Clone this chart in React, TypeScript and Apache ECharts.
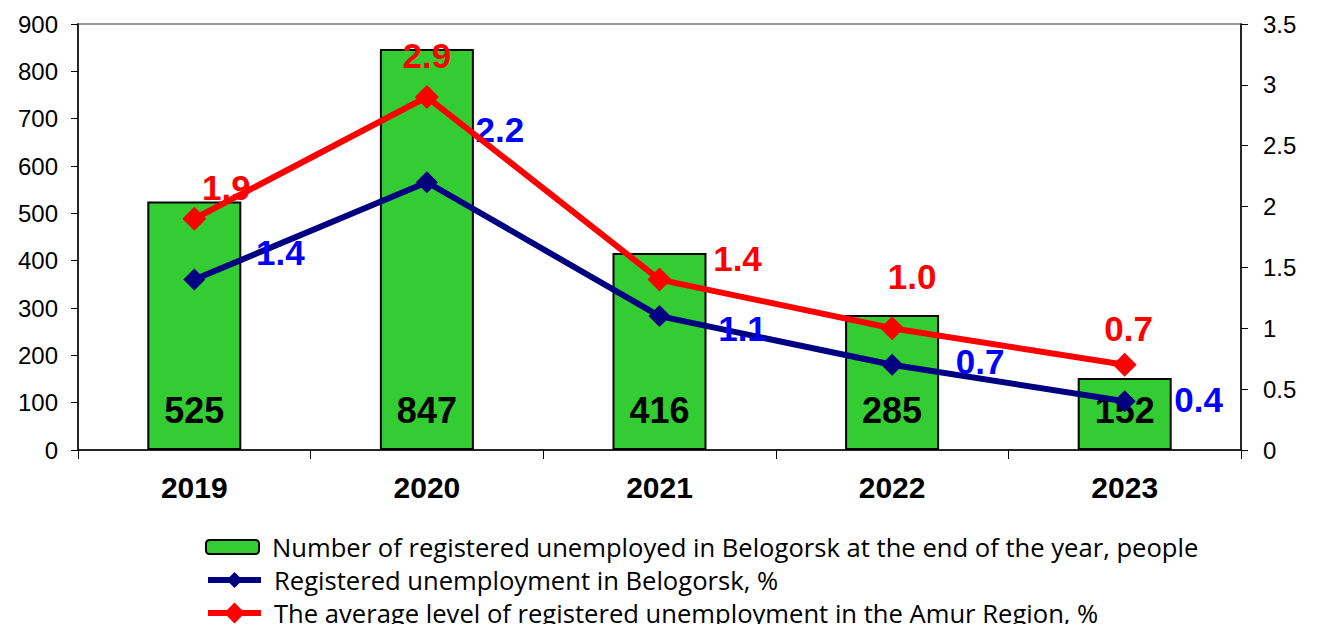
import React, { useEffect, useRef } from "react";
import * as echarts from "echarts";

const years = ["2019", "2020", "2021", "2022", "2023"];
const unemployedCount = [525, 847, 416, 285, 152];
const belogorskRate = [1.4, 2.2, 1.1, 0.7, 0.4];
const amurRate = [1.9, 2.9, 1.4, 1.0, 0.7];

const leftTicks = { min: 0, max: 900, interval: 100 };
const rightTicks = { min: 0, max: 3.5, interval: 0.5 };

const names = [
  "Number of registered unemployed in Belogorsk at the end of the year, people",
  "Registered unemployment in Belogorsk, %",
  "The average level of registered unemployment in the Amur Region, %",
];

// label offsets (layout only)
const blueOffsets = [[86, -27], [73, -53], [83, 12], [88, -3], [74, -2]];
const redOffsets = [[32, -31], [0, -42], [78, -21], [20, -52], [4, -36]];
const legendTops = [534, 567, 600];

export default function App() {
  const ref = useRef<HTMLDivElement>(null);
  useEffect(() => {
    if (!ref.current) return;
    const chart = echarts.init(ref.current, null, { renderer: "svg" });
    const font = "Arial, 'Liberation Sans', sans-serif";
    const legendBase = {
      orient: "vertical",
      left: 205,
      itemWidth: 53,
      itemHeight: 16,
      padding: 0,
      textStyle: {
        fontFamily: "'Open Sans', sans-serif",
        fontSize: 25.6,
        color: "#000",
        padding: [0, 0, 0, 8],
      },
    };
    chart.setOption({
      animation: false,
      textStyle: { fontFamily: font },
      grid: {
        left: 78,
        right: 76,
        top: 24,
        bottom: 182,
        show: true,
        borderColor: "#999",
        borderWidth: 2,
        backgroundColor: "transparent",
      },
      legend: [
        { ...legendBase, top: legendTops[0], itemHeight: 14, data: [{ name: names[0] }] },
        { ...legendBase, top: legendTops[1], itemHeight: 20, data: [{ name: names[1], lineStyle: { width: 6 } }] },
        { ...legendBase, top: legendTops[2], itemHeight: 26, data: [{ name: names[2], lineStyle: { width: 6 } }] },
      ],
      xAxis: {
        type: "category",
        data: years,
        axisLine: { lineStyle: { color: "#000", width: 1.5 } },
        axisTick: { show: true, length: 9, lineStyle: { color: "#000" } },
        axisLabel: {
          color: "#000",
          fontSize: 30,
          fontWeight: "bold",
          margin: 22,
          fontFamily: font,
        },
      },
      yAxis: [
        {
          type: "value",
          ...leftTicks,
          position: "left",
          axisLine: { show: true, lineStyle: { color: "#000", width: 1.5 } },
          axisTick: { show: true, length: 7, lineStyle: { color: "#000" } },
          splitLine: { show: false },
          axisLabel: { color: "#000", fontSize: 24, margin: 20, fontFamily: font },
        },
        {
          type: "value",
          ...rightTicks,
          position: "right",
          axisLine: { show: true, lineStyle: { color: "#000", width: 1.5 } },
          axisTick: { show: true, length: 7, lineStyle: { color: "#000" } },
          splitLine: { show: false },
          axisLabel: { color: "#000", fontSize: 24, margin: 22, fontFamily: font },
        },
      ],
      series: [
        {
          name: names[0],
          type: "bar",
          yAxisIndex: 0,
          data: unemployedCount,
          barWidth: 94,
          itemStyle: { color: "#33CC33", borderColor: "#000", borderWidth: 2 },
          label: {
            show: true,
            position: "insideBottom",
            distance: 22,
            color: "#000",
            fontSize: 36,
            fontWeight: "bold",
            fontFamily: font,
          },
          z: 1,
        },
        {
          name: names[1],
          type: "line",
          yAxisIndex: 1,
          data: belogorskRate.map((v, i) => ({
            value: v,
            label: { offset: blueOffsets[i] },
          })),
          symbol: "diamond",
          symbolSize: 22,
          lineStyle: { color: "#000080", width: 6 },
          itemStyle: { color: "#000080" },
          label: {
            show: true,
            position: "inside",
            color: "#0000FF",
            fontSize: 35,
            fontWeight: "bold",
            fontFamily: font,
            formatter: (p: any) => Number(p.value).toFixed(1),
          },
          z: 3,
        },
        {
          name: names[2],
          type: "line",
          yAxisIndex: 1,
          data: amurRate.map((v, i) => ({
            value: v,
            label: { offset: redOffsets[i] },
          })),
          symbol: "diamond",
          symbolSize: 24,
          lineStyle: { color: "#FF0000", width: 6 },
          itemStyle: { color: "#FF0000" },
          label: {
            show: true,
            position: "inside",
            color: "#FF0000",
            fontSize: 35,
            fontWeight: "bold",
            fontFamily: font,
            formatter: (p: any) => Number(p.value).toFixed(1),
          },
          z: 4,
        },
      ],
    });
    return () => chart.dispose();
  }, []);
  return <div ref={ref} style={{ width: 1317, height: 632, margin: -8 }} />;
}
